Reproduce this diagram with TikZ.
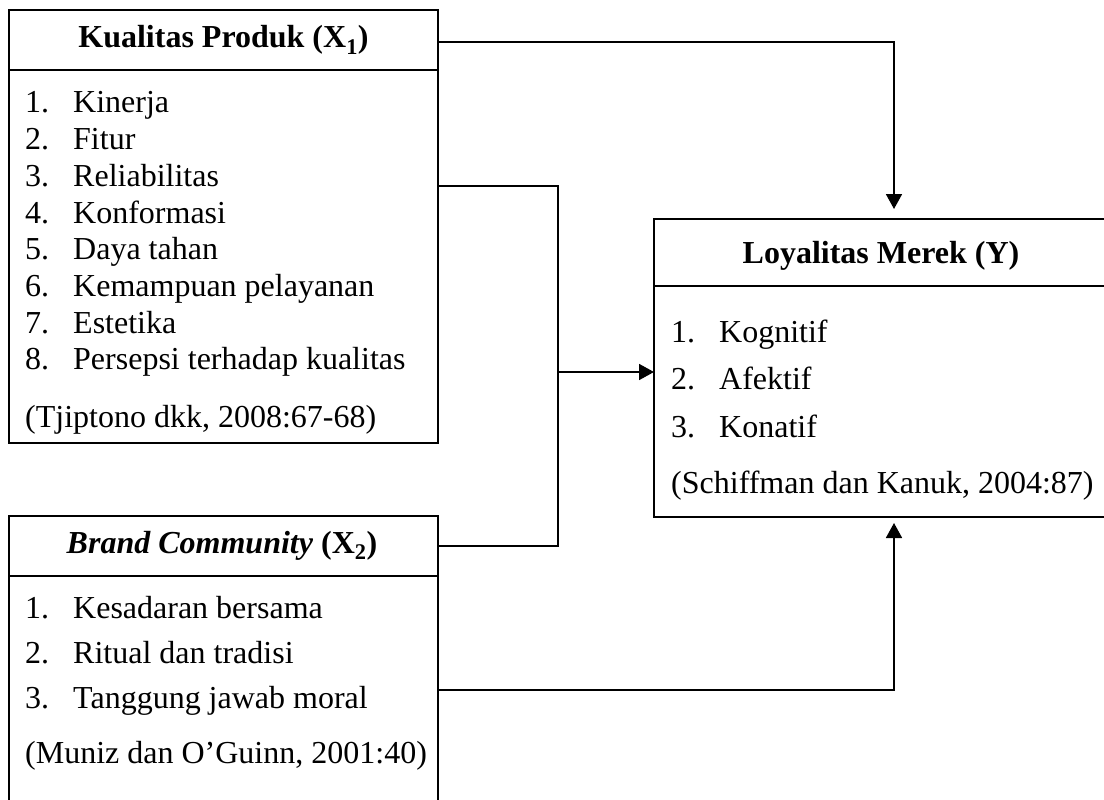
\documentclass[tikz,border=0pt]{standalone}
\usepackage{fontspec}
\setmainfont{Liberation Serif}
\usetikzlibrary{arrows.meta}
\begin{document}
\begin{tikzpicture}[x=1pt,y=-1pt,
  box/.style={draw, line width=1.8pt, inner sep=0pt, outer sep=0pt, anchor=north west},
  txt/.style={anchor=base west, inner sep=0pt, font=\fontsize{32}{38}\selectfont},
  ttl/.style={anchor=base, inner sep=0pt, font=\fontsize{32}{38}\selectfont\bfseries},
  conn/.style={line width=1.8pt},
  arr/.style={conn, -{Triangle[length=15pt,width=16pt]}}]
\useasboundingbox (0,0) rectangle (1104,800);
\clip (0,0) rectangle (1104,800);
% boxes
\node[box, minimum width=429pt, minimum height=433pt] (kp) at (9,10) {};
\node[box, minimum width=429pt, minimum height=330pt] (bc) at (9,516) {};
\node[box, minimum width=500pt, minimum height=298pt] (ly) at (654,219) {};
\draw[conn] (kp.west |- 0,70) -- (kp.east |- 0,70);
\draw[conn] (bc.west |- 0,576) -- (bc.east |- 0,576);
\draw[conn] (ly.west |- 0,286) -- (ly.east |- 0,286);
% titles
\node[ttl] (kpt) at (223.5,48) {Kualitas Produk (X\textsubscript{1})};
\node[ttl] (bct) at (222,553) {\textit{Brand Community} (X\textsubscript{2})};
\node[ttl] (lyt) at (881,263) {Loyalitas Merek (Y)};
% box 1 items
\foreach \n/\t [count=\i from 0] in {1/Kinerja,2/Fitur,3/Reliabilitas,4/Konformasi,5/Daya tahan,6/Kemampuan pelayanan,7/Estetika,8/Persepsi terhadap kualitas}{
  \node[txt] (kpn\n) at (25,113+36.7*\i) {\n.};
  \node[txt] (kpi\n) at (73,113+36.7*\i) {\t};
}
\node[txt] (kps) at (25,427) {(Tjiptono dkk, 2008:67-68)};
% box 2 items
\foreach \n/\t [count=\i from 0] in {1/Kesadaran bersama,2/Ritual dan tradisi,3/Tanggung jawab moral}{
  \node[txt] (bcn\n) at (25,618+45*\i) {\n.};
  \node[txt] (bci\n) at (73,618+45*\i) {\t};
}
\node[txt] (bcs) at (25,763) {(Muniz dan O’Guinn, 2001:40)};
% box Y items
\foreach \n/\t [count=\i from 0] in {1/Kognitif,2/Afektif,3/Konatif}{
  \node[txt] (lyn\n) at (671,342+47.5*\i) {\n.};
  \node[txt] (lyi\n) at (719,342+47.5*\i) {\t};
}
\node[txt] (lys) at (671,493) {(Schiffman dan Kanuk, 2004:87)};
% connectors
\coordinate (ya) at (894,209);
\coordinate (yc) at (894,523);
\coordinate (bj) at (558,372);
\draw[arr] (kp.east |- 0,42) -| (ya);
\draw[conn] (kp.east |- 0,186) -| (bj) |- (bc.east |- 0,546);
\draw[arr] (bj) -- (ly.west |- bj);
\draw[arr] (bc.east |- 0,690) -| (yc);
\end{tikzpicture}
\end{document}
